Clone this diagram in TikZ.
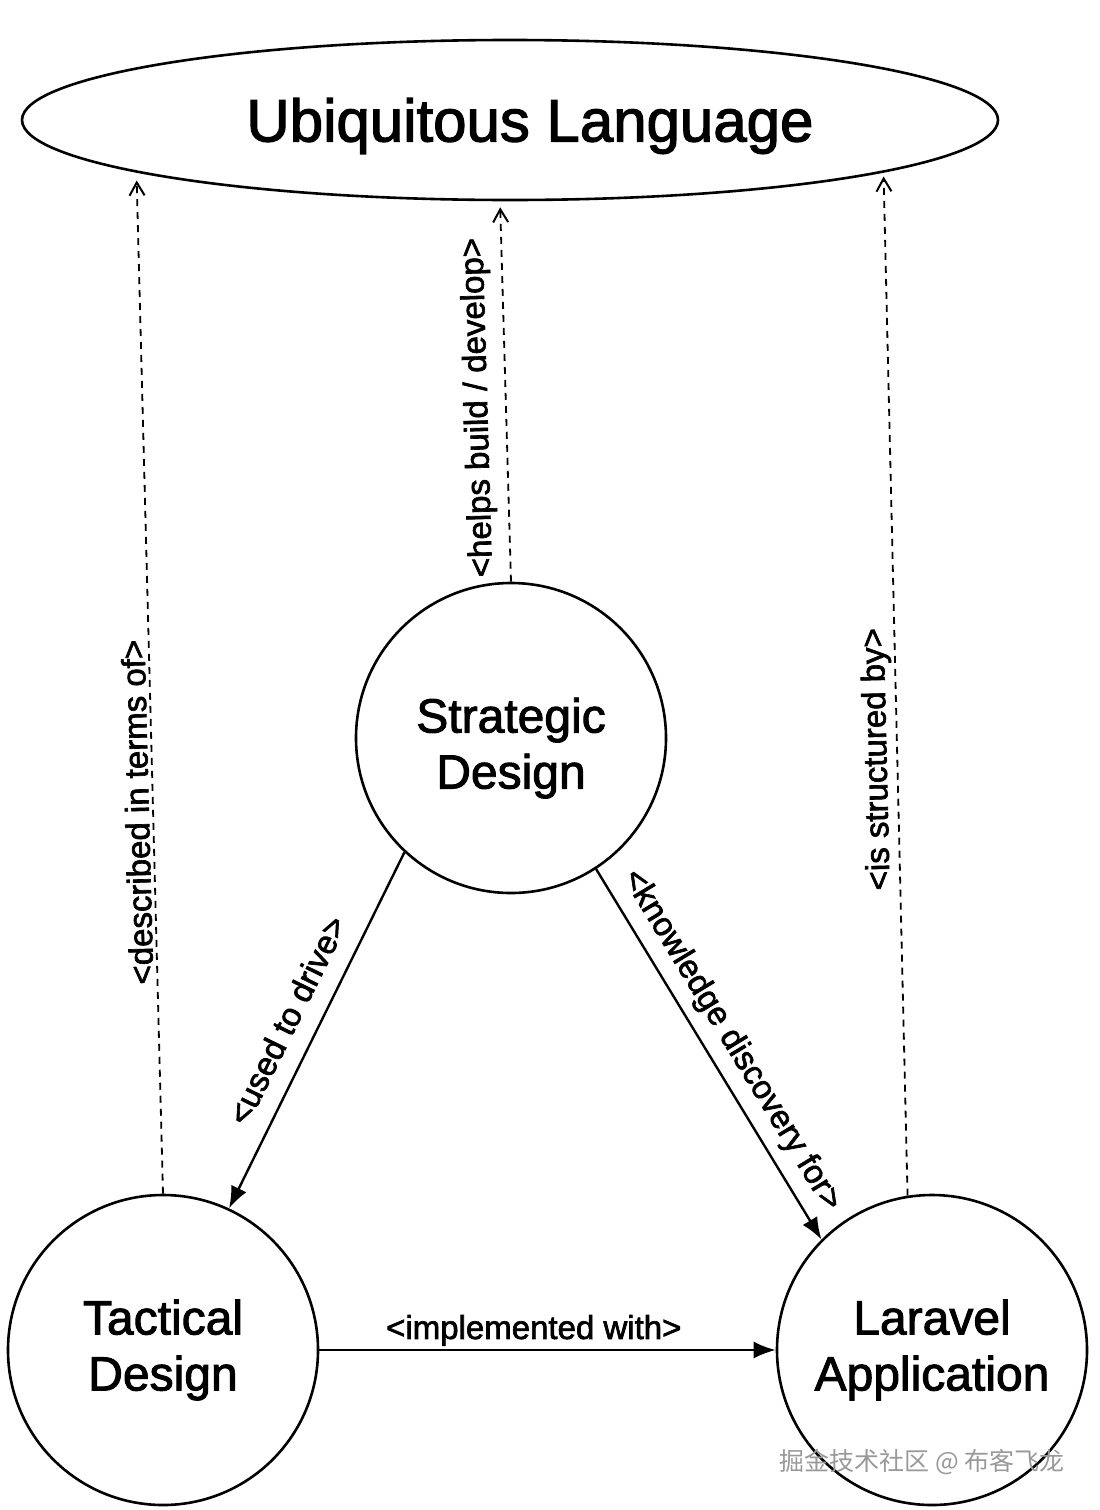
\documentclass[tikz,border=0pt]{standalone}
\usepackage{fontspec}
\setmainfont{Liberation Sans}[FakeBold=2]
\newfontfamily\cjkfont{Noto Sans CJK SC}
\usetikzlibrary{shapes.geometric,arrows.meta}
\begin{document}
\begin{tikzpicture}[x=1pt,y=-1pt,
  concept/.style={circle,draw,line width=2.6pt,minimum size=310pt,inner sep=0pt,align=center,font=\fontsize{48}{56}\selectfont},
  depline/.style={dashed,line width=1.8pt,dash pattern=on 7pt off 6pt,-{Straight Barb[length=13pt,width=15pt,line width=2pt]}},
  relline/.style={line width=2.4pt,-{Latex[length=22pt,width=17pt]}},
  lbl/.style={font=\fontsize{33}{38}\selectfont,inner sep=3pt,sloped,above},
  uplbl/.style={lbl,allow upside down}]
\useasboundingbox (0,0) rectangle (1100,1510);
\node[ellipse,draw,line width=2.6pt,minimum width=976pt,minimum height=160pt,font=\fontsize{60}{64}\selectfont,text height=43pt,text depth=0pt] (UL) at (510,120) {\hspace*{40pt}Ubiquitous Language};
\node[concept] (S) at (511,738) {\rule{0pt}{55pt}Strategic\\Design};
\node[concept] (T) at (163,1350) {Tactical\\Design};
\node[concept] (L) at (932,1350) {Laravel\\Application};
\draw[depline,shorten >=8pt] (T.north) -- node[uplbl,pos=0.374] {<described in terms of>} (UL.188);
\draw[depline,shorten >=6pt] (S.north) -- node[uplbl,pos=0.46,above=8pt] {<helps build / develop>} (UL.263);
\draw[depline,shorten >=4pt] (L.99) -- node[uplbl,pos=0.427] {<is structured by>} (UL.352);
\draw[relline] (S.227) -- node[lbl,pos=0.51,above=15pt] {<used to drive>} (T.65);
\draw[relline] (S.303) -- node[lbl,pos=0.5,above=7pt] {<knowledge discovery for>} (L.135);
\draw[relline] (T.east) -- node[lbl,pos=0.47] {<implemented with>} (L.west);
\node[font=\cjkfont\fontsize{25}{28}\selectfont,text=black!40,anchor=east,inner sep=0pt] (WM) at (1065,1462) {掘金技术社区 @ 布客飞龙};
\end{tikzpicture}
\end{document}
